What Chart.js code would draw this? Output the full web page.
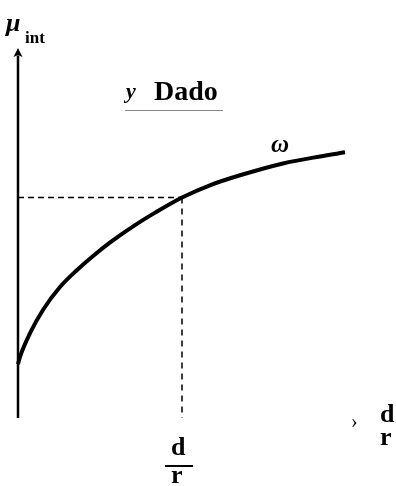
<!DOCTYPE html>
<html lang="es">
<head>
    <meta charset="UTF-8">
    <title>Dado</title>
    <script src="https://cdn.jsdelivr.net/npm/chart.js"></script>
    <style>
        body { margin: 0; background: #fff; }
        .wrap { position: relative; width: 396px; height: 486px; }
        .lbl { position: absolute; font-family: "Liberation Serif", "DejaVu Serif", serif; line-height: 1; color: #000; white-space: nowrap; font-weight: bold; }
        .it { font-style: italic; }
        .bar { position: absolute; background: #000; }
    </style>
</head>
<body>
<div class="wrap">
    <canvas id="chart" width="396" height="486"></canvas>

    <span class="lbl it" style="left:6px; top:10px; font-size:26px;">μ</span>
    <span class="lbl" style="left:25px; top:29px; font-size:17px;">int</span>

    <span class="lbl it" style="left:126px; top:80px; font-size:22px;">y</span>
    <span class="lbl" style="left:154px; top:77px; font-size:28px;">Dado</span>
    <div class="bar" style="left:125px; top:110px; width:98px; height:1px; background:#888;"></div>

    <span class="lbl it" style="left:271px; top:131px; font-size:25px;">ω</span>

    <span class="lbl" style="left:171px; top:434px; font-size:26px;">d</span>
    <div class="bar" style="left:165px; top:465px; width:28px; height:2px;"></div>
    <span class="lbl" style="left:171px; top:462px; font-size:26px;">r</span>

    <span class="lbl" style="left:351px; top:411px; font-size:20px; font-weight:normal;">›</span>
    <span class="lbl" style="left:380px; top:401px; font-size:26px;">d</span>
    <span class="lbl" style="left:380px; top:424px; font-size:26px;">r</span>
</div>

<script>
    // curve samples: x in units of d/r (scaled so the marked point sits at 5)
    const curveX = [0.0, 0.06, 0.37, 0.76, 1.28, 1.80, 2.29, 2.80, 3.51, 4.18, 5.0, 5.85, 6.77, 8.08, 9.21, 9.97];
    const curveY = [1.45, 1.65, 2.30, 2.92, 3.54, 4.00, 4.38, 4.74, 5.18, 5.55, 5.96, 6.29, 6.56, 6.88, 7.07, 7.18];

    // the given point
    const markX = 5.0;
    const markY = 5.96;

    const xMin = 0, xMax = 10;
    const yMin = 0, yMax = 10;

    const curve = curveX.map((x, i) => ({ x: x, y: curveY[i] }));

    // arrow head on top of the vertical axis
    const axisArrow = {
        id: 'axisArrow',
        afterDatasetsDraw(chart) {
            const { ctx, scales } = chart;
            const px = scales.x.getPixelForValue(xMin);
            const py = scales.y.getPixelForValue(yMax);
            ctx.save();
            ctx.fillStyle = '#000';
            ctx.beginPath();
            ctx.moveTo(px, py);
            ctx.lineTo(px - 4.5, py + 9);
            ctx.lineTo(px, py + 7);
            ctx.lineTo(px + 4.5, py + 9);
            ctx.closePath();
            ctx.fill();
            ctx.restore();
        }
    };

    new Chart(document.getElementById('chart'), {
        type: 'line',
        data: {
            datasets: [
                {
                    data: curve,
                    borderColor: '#000',
                    borderWidth: 4,
                    cubicInterpolationMode: 'monotone',
                    pointRadius: 0,
                    clip: false
                },
                {
                    data: [{ x: xMin, y: markY }, { x: markX, y: markY }],
                    borderColor: '#000',
                    borderWidth: 1.5,
                    borderDash: [6, 4],
                    pointRadius: 0,
                    clip: false
                },
                {
                    data: [{ x: markX, y: markY }, { x: markX, y: yMin }],
                    borderColor: '#000',
                    borderWidth: 1.5,
                    borderDash: [6, 5],
                    pointRadius: 0,
                    clip: false
                },
                {
                    data: [{ x: xMin, y: yMin }, { x: xMin, y: yMax - 0.2 }],
                    borderColor: '#000',
                    borderWidth: 2.5,
                    pointRadius: 0,
                    clip: false
                }
            ]
        },
        options: {
            responsive: false,
            animation: false,
            layout: { padding: { left: 18, top: 48, right: 50, bottom: 68 } },
            plugins: { legend: { display: false }, tooltip: { enabled: false } },
            scales: {
                x: { type: 'linear', min: xMin, max: xMax, display: false },
                y: { type: 'linear', min: yMin, max: yMax, display: false }
            }
        },
        plugins: [axisArrow]
    });
</script>
</body>
</html>
